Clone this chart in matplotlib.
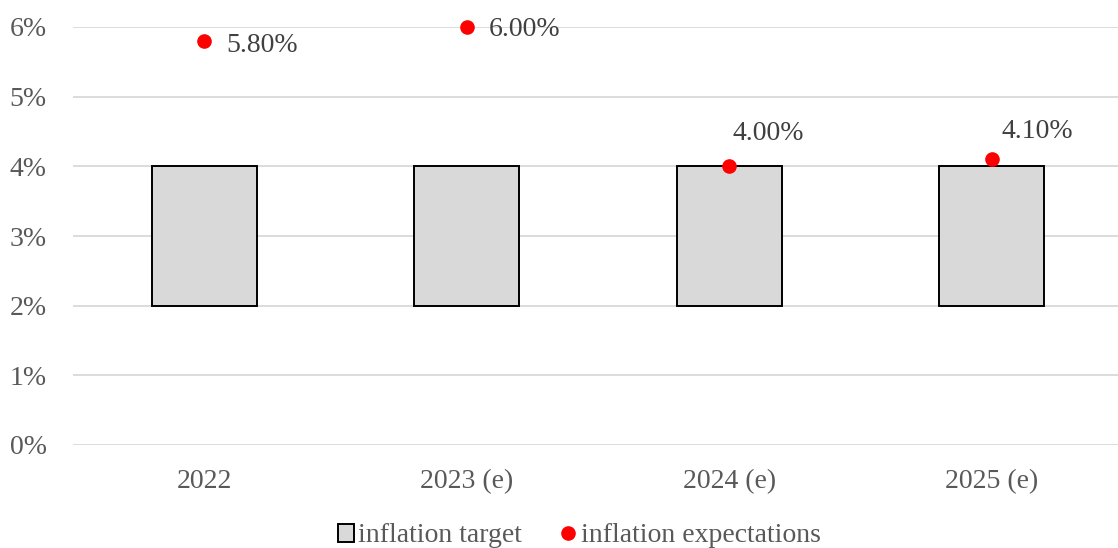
import matplotlib
matplotlib.use('Agg')
import matplotlib.pyplot as plt
from matplotlib.patches import Patch
from matplotlib.lines import Line2D
import numpy as np

categories = ['2022', '2023 (e)', '2024 (e)', '2025 (e)']
target_low = [2.0, 2.0, 2.0, 2.0]
target_high = [4.0, 4.0, 4.0, 4.0]
expectations = [5.8, 6.0, 4.0, 4.1]
exp_labels = ['5.80%', '6.00%', '4.00%', '4.10%']

plt.rcParams['font.family'] = ['Liberation Serif', 'DejaVu Serif']
txt = '#595959'
fs = 20

fig = plt.figure(figsize=(11.18, 5.48), dpi=100)
ax = fig.add_axes([73 / 1118, 1 - 445 / 548, 1 - 73 / 1118, (445 - 27) / 548])

x = np.arange(len(categories))
heights = np.array(target_high) - np.array(target_low)
ax.bar(x, heights, bottom=target_low, width=0.40, color='#d9d9d9',
       edgecolor='black', linewidth=1.4, zorder=2)
ax.plot(x, expectations, 'o', color='#ff0000', markersize=9.5, zorder=3,
        clip_on=False)

# label offsets in points (dx, dy)
offsets = [(16, -3), (16, -2), (2, 24), (7, 20)]
for xi, yi, lab, (dx, dy) in zip(x, expectations, exp_labels, offsets):
    ax.annotate(lab, (xi, yi), xytext=(dx, dy), textcoords='offset points',
                ha='left', va='center', fontsize=fs, color='#404040')

ax.set_xlim(-0.5, 3.48)
ax.set_ylim(0, 6)
ax.set_yticks(range(0, 7))
ax.set_yticklabels([f'{v}%' for v in range(0, 7)])
ax.set_xticks(x)
ax.set_xticklabels(categories)
ax.tick_params(axis='both', length=0, labelsize=fs, labelcolor=txt)
ax.tick_params(axis='x', pad=17)
ax.tick_params(axis='y', pad=19)
ax.yaxis.grid(True, color='#d9d9d9', linewidth=1.3, zorder=0)
ax.set_axisbelow(True)
for s in ax.spines.values():
    s.set_visible(False)

handles = [
    Patch(facecolor='#d9d9d9', edgecolor='black', linewidth=1.4, label='inflation target'),
    Line2D([], [], marker='o', linestyle='none', color='#ff0000', markersize=9.5,
           label='inflation expectations'),
]
leg = fig.legend(handles=handles, loc='center', bbox_to_anchor=(579 / 1118, 1 - 536 / 548),
                 ncol=2, frameon=False, fontsize=fs, handlelength=0.6,
                 handleheight=0.6, handletextpad=0.15, columnspacing=1.35)
for t in leg.get_texts():
    t.set_color(txt)

fig.savefig('out.png', dpi=100)
